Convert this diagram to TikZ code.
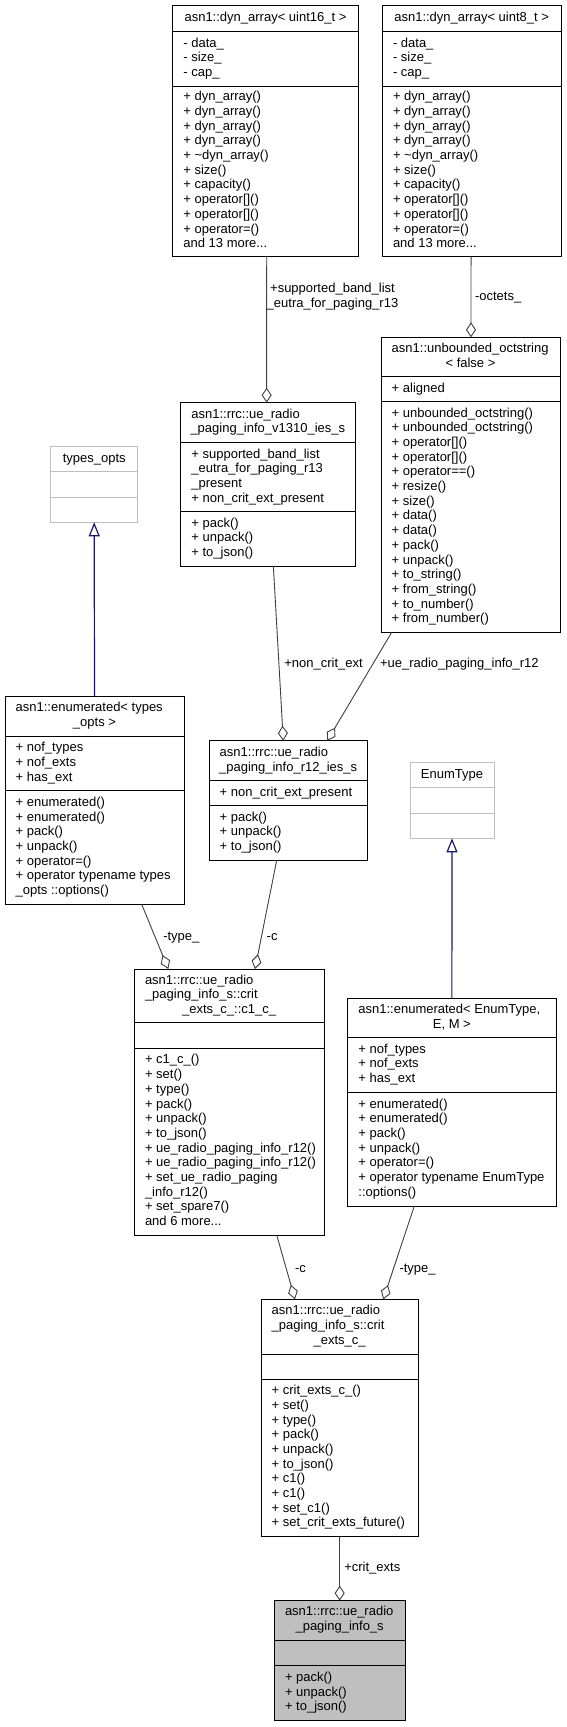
\documentclass[tikz,border=0pt]{standalone}
\usepackage{fontspec}
\setmainfont{Liberation Sans}
\usetikzlibrary{arrows.meta}
\definecolor{edgegray}{HTML}{404040}
\definecolor{inhblue}{HTML}{191970}
\definecolor{lgray}{HTML}{BFBFBF}
\newcommand\fs{\fontsize{13}{14.7}\selectfont}
\tikzset{
  clsbox/.style={draw=black, line width=1pt, fill=white, inner sep=0pt, outer sep=0pt},
  clsline/.style={draw=black, line width=1pt},
  graybox/.style={draw=lgray},
  filledbox/.style={fill=lgray},
  cmp/.style={inner sep=0pt, outer sep=0pt, align=left, font=\fs, anchor=west},
  ttl/.style={inner sep=0pt, outer sep=0pt, font=\fs},
  lbl/.style={inner sep=0pt, outer sep=0pt, font=\fs, anchor=west},
  agg/.style={draw=edgegray, line width=0.9pt, -{Diamond[open, length=15pt, width=10pt]}},
  inh/.style={draw=inhblue, line width=1.2pt, -{Triangle[open, length=14pt, width=11pt]}},
}
\newcommand\umlcls[8]{%
  \pgfmathsetmacro\umltot{#5+#6+#7}%
  \pgfmathsetmacro\umlsepb{#5+#6}%
  \node[clsbox,#8,anchor=north west,minimum width=#4pt,minimum height=\umltot pt] (#1) at (#2,#3) {};
  \draw[clsline,#8] ([yshift=-#5pt]#1.north west) -- ([yshift=-#5pt]#1.north east);
  \draw[clsline,#8] ([yshift=-\umlsepb pt]#1.north west) -- ([yshift=-\umlsepb pt]#1.north east);
}
\begin{document}
\begin{tikzpicture}[x=1pt,y=-1pt]
\fill[white] (0,0) rectangle (567,1727);
\useasboundingbox (0,0) rectangle (567,1727);

% ---------- boxes ----------
\umlcls{A}{172.7}{5}{185.6}{26.7}{54.3}{170.7}{}
\umlcls{B}{382.3}{5}{178.7}{26.7}{54.3}{170.7}{}
\umlcls{C}{180.7}{402.7}{174.3}{40}{69}{54.3}{}
\umlcls{D}{381}{337.3}{179}{39.4}{25}{230.6}{}
\umlcls{TO}{50.7}{446.7}{87}{25}{25.6}{25}{graybox}
\umlcls{ET}{5}{696}{179}{40.7}{54}{113.6}{}
\umlcls{E}{209}{740.7}{158.3}{40}{25}{54.6}{}
\umlcls{ENT}{410}{762.7}{84}{25}{25.6}{25}{graybox}
\umlcls{F}{134.3}{969}{189.7}{53.7}{26}{186.3}{}
\umlcls{G}{347.7}{998.3}{208.3}{39.4}{54.6}{113.7}{}
\umlcls{H}{261}{1299.3}{157.3}{54.7}{25}{157.7}{}
\umlcls{I}{274.3}{1600.7}{130.7}{39.3}{25.7}{55}{filledbox}

% ---------- A ----------
\node[ttl] (At) at ([yshift=-13.35pt]A.north) {\strut asn1::dyn\_array< uint16\_t >};
\node[cmp] (Aa) at ([xshift=10.7pt,yshift=-53.85pt]A.north west) {\strut - data\_\\- size\_\\- cap\_\strut};
\node[cmp] (Am) at ([xshift=10.7pt,yshift=-166.35pt]A.north west) {\strut + dyn\_array()\\+ dyn\_array()\\+ dyn\_array()\\+ dyn\_array()\\+ \textasciitilde dyn\_array()\\+ size()\\+ capacity()\\+ operator[]()\\+ operator[]()\\+ operator=()\\and 13 more...\strut};

% ---------- B ----------
\node[ttl] (Bt) at ([yshift=-13.35pt]B.north) {\strut asn1::dyn\_array< uint8\_t >};
\node[cmp] (Ba) at ([xshift=10.7pt,yshift=-53.85pt]B.north west) {\strut - data\_\\- size\_\\- cap\_\strut};
\node[cmp] (Bm) at ([xshift=10.7pt,yshift=-166.35pt]B.north west) {\strut + dyn\_array()\\+ dyn\_array()\\+ dyn\_array()\\+ dyn\_array()\\+ \textasciitilde dyn\_array()\\+ size()\\+ capacity()\\+ operator[]()\\+ operator[]()\\+ operator=()\\and 13 more...\strut};

% ---------- C ----------
\node[ttl,anchor=north west] (Ct1) at ([xshift=10.7pt,yshift=-5.3pt]C.north west) {\strut asn1::rrc::ue\_radio};
\node[ttl,anchor=north] (Ct2) at ([yshift=-20pt]C.north) {\strut \_paging\_info\_v1310\_ies\_s};
\node[cmp] (Ca) at ([xshift=10.7pt,yshift=-74.5pt]C.north west) {\strut + supported\_band\_list\\\_eutra\_for\_paging\_r13\\\_present\\+ non\_crit\_ext\_present\strut};
\node[cmp] (Cm) at ([xshift=10.7pt,yshift=-136.15pt]C.north west) {\strut + pack()\\+ unpack()\\+ to\_json()\strut};

% ---------- D ----------
\node[ttl,anchor=north west] (Dt1) at ([xshift=10.7pt,yshift=-5pt]D.north west) {\strut asn1::unbounded\_octstring};
\node[ttl,anchor=north] (Dt2) at ([yshift=-19.7pt]D.north) {\strut < false >};
\node[cmp] (Da) at ([xshift=10.7pt,yshift=-51.9pt]D.north west) {\strut + aligned\strut};
\node[cmp] (Dm) at ([xshift=10.7pt,yshift=-179.7pt]D.north west) {\strut + unbounded\_octstring()\\+ unbounded\_octstring()\\+ operator[]()\\+ operator[]()\\+ operator==()\\+ resize()\\+ size()\\+ data()\\+ data()\\+ pack()\\+ unpack()\\+ to\_string()\\+ from\_string()\\+ to\_number()\\+ from\_number()\strut};

% ---------- types_opts ----------
\node[ttl] (TOt) at ([yshift=-12.5pt]TO.north) {\strut types\_opts};

% ---------- ET ----------
\node[ttl,anchor=north west] (ETt1) at ([xshift=10.7pt,yshift=-5.65pt]ET.north west) {\strut asn1::enumerated< types};
\node[ttl,anchor=north] (ETt2) at ([yshift=-20.35pt]ET.north) {\strut \_opts >};
\node[cmp] (ETa) at ([xshift=10.7pt,yshift=-67.7pt]ET.north west) {\strut + nof\_types\\+ nof\_exts\\+ has\_ext\strut};
\node[cmp] (ETm) at ([xshift=10.7pt,yshift=-151.5pt]ET.north west) {\strut + enumerated()\\+ enumerated()\\+ pack()\\+ unpack()\\+ operator=()\\+ operator typename types\\\_opts ::options()\strut};

% ---------- E ----------
\node[ttl,anchor=north west] (Et1) at ([xshift=10.7pt,yshift=-5.3pt]E.north west) {\strut asn1::rrc::ue\_radio};
\node[ttl,anchor=north] (Et2) at ([yshift=-20pt]E.north) {\strut \_paging\_info\_r12\_ies\_s};
\node[cmp] (Ea) at ([xshift=10.7pt,yshift=-52.5pt]E.north west) {\strut + non\_crit\_ext\_present\strut};
\node[cmp] (Em) at ([xshift=10.7pt,yshift=-92.3pt]E.north west) {\strut + pack()\\+ unpack()\\+ to\_json()\strut};

% ---------- EnumType ----------
\node[ttl] (ENTt) at ([yshift=-12.5pt]ENT.north) {\strut EnumType};

% ---------- F ----------
\node[ttl,anchor=north west,align=left] (Ft1) at ([xshift=10.7pt,yshift=-4.8pt]F.north west) {\strut asn1::rrc::ue\_radio\\\_paging\_info\_s::crit\strut};
\node[ttl,anchor=north] (Ft2) at ([yshift=-34.2pt]F.north) {\strut \_exts\_c\_::c1\_c\_};
\node[cmp] (Fm) at ([xshift=10.7pt,yshift=-172.85pt]F.north west) {\strut + c1\_c\_()\\+ set()\\+ type()\\+ pack()\\+ unpack()\\+ to\_json()\\+ ue\_radio\_paging\_info\_r12()\\+ ue\_radio\_paging\_info\_r12()\\+ set\_ue\_radio\_paging\\\_info\_r12()\\+ set\_spare7()\\and 6 more...\strut};

% ---------- G ----------
\node[ttl,anchor=north west] (Gt1) at ([xshift=10.7pt,yshift=-5pt]G.north west) {\strut asn1::enumerated< EnumType,};
\node[ttl,anchor=north] (Gt2) at ([yshift=-19.7pt]G.north) {\strut E, M >};
\node[cmp] (Ga) at ([xshift=10.7pt,yshift=-66.7pt]G.north west) {\strut + nof\_types\\+ nof\_exts\\+ has\_ext\strut};
\node[cmp] (Gm) at ([xshift=10.7pt,yshift=-150.85pt]G.north west) {\strut + enumerated()\\+ enumerated()\\+ pack()\\+ unpack()\\+ operator=()\\+ operator typename EnumType\\::options()\strut};

% ---------- H ----------
\node[ttl,anchor=north west,align=left] (Ht1) at ([xshift=10.7pt,yshift=-5.3pt]H.north west) {\strut asn1::rrc::ue\_radio\\\_paging\_info\_s::crit\strut};
\node[ttl,anchor=north] (Ht2) at ([yshift=-34.7pt]H.north) {\strut \_exts\_c\_};
\node[cmp] (Hm) at ([xshift=10.7pt,yshift=-158.55pt]H.north west) {\strut + crit\_exts\_c\_()\\+ set()\\+ type()\\+ pack()\\+ unpack()\\+ to\_json()\\+ c1()\\+ c1()\\+ set\_c1()\\+ set\_crit\_exts\_future()\strut};

% ---------- I ----------
\node[ttl,anchor=north west] (It1) at ([xshift=10.7pt,yshift=-4.95pt]I.north west) {\strut asn1::rrc::ue\_radio};
\node[ttl,anchor=north] (It2) at ([yshift=-19.65pt]I.north) {\strut \_paging\_info\_s};
\node[cmp] (Im) at ([xshift=10.7pt,yshift=-92.5pt]I.north west) {\strut + pack()\\+ unpack()\\+ to\_json()\strut};

% ---------- connectors ----------
\draw[agg] ([xshift=1.2pt]A.south) -- ([xshift=-1.2pt]C.north);
\draw[agg] ([xshift=-0.6pt]B.south) -- ([xshift=0.5pt]D.north);
\draw[inh] (ET.north) -- (TO.south);
\draw[inh] (G.north) -- (ENT.south);
\draw[agg] ([xshift=5.5pt]C.south) -- ([xshift=-4.85pt]E.north);
\draw[agg] ([xshift=-78.8pt]D.south) -- ([xshift=39.15pt]E.north);
\draw[agg] ([xshift=-11.45pt]E.south) -- ([xshift=25.85pt]F.north);
\draw[agg] ([xshift=47.2pt]ET.south) -- ([xshift=-60.85pt]F.north);
\draw[agg] ([xshift=47.55pt]F.south) -- ([xshift=-44.65pt]H.north);
\draw[agg] ([xshift=-37.55pt]G.south) -- ([xshift=43.65pt]H.north);
\draw[agg] (H.south) -- (I.north);

% ---------- labels ----------
\node[lbl,anchor=center,align=center] (l1) at (332.5,297) {\strut +supported\_band\_list\\\_eutra\_for\_paging\_r13\strut};
\node[lbl] (l2) at (475,297.7) {\strut -octets\_};
\node[lbl] (l3) at (284.3,665) {\strut +non\_crit\_ext};
\node[lbl] (l4) at (380,665) {\strut +ue\_radio\_paging\_info\_r12};
\node[lbl] (l5) at (163.3,937.7) {\strut -type\_};
\node[lbl] (l6) at (266.7,937.5) {\strut -c};
\node[lbl] (l7) at (295,1269.5) {\strut -c};
\node[lbl] (l8) at (399.5,1269.5) {\strut -type\_};
\node[lbl] (l9) at (344.3,1568.3) {\strut +crit\_exts};
\end{tikzpicture}
\end{document}
